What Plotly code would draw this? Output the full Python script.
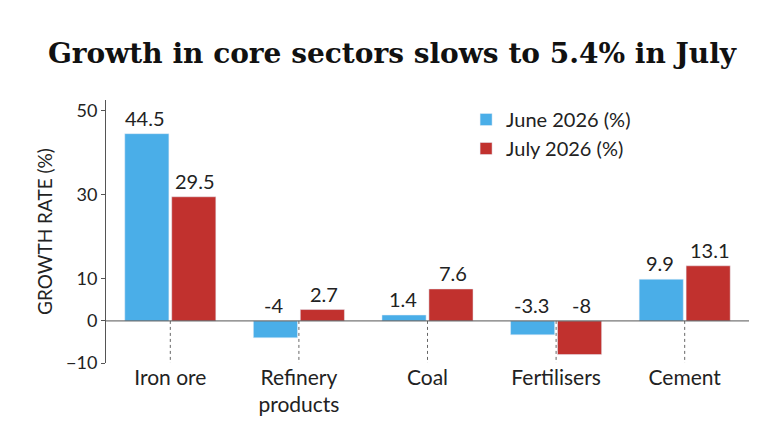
import plotly.graph_objects as go

categories = ["Iron ore", "Refinery<br>products", "Coal", "Fertilisers", "Cement"]
june = [44.5, -4, 1.4, -3.3, 9.9]
july = [29.5, 2.7, 7.6, -8, 13.1]
tick_vals = [50, 30, 10, 0, -10]

blue = "#4aaee8"
red = "#c1312e"
font = "Lato, Open Sans, sans-serif"

fig = go.Figure()
fig.add_trace(go.Bar(x=categories, y=june, name="June 2026 (%)", marker_color=blue))
fig.add_trace(go.Bar(x=categories, y=july, name="July 2026 (%)", marker_color=red))

# value labels always sit above the zero line / bar top, as in the reference
for vals, shift in ((june, -25), (july, 25)):
    for c, v in zip(categories, vals):
        fig.add_annotation(x=c, y=max(v, 0), text=f"{v:g}", showarrow=False,
                           xshift=shift, yanchor="bottom", yshift=2,
                           font=dict(size=20, color="#222"))

# dotted guide lines under each category
for c in categories:
    fig.add_shape(type="line", x0=c, x1=c, y0=0, y1=-10, xref="x", yref="y",
                  line=dict(color="#666", width=1, dash="dot"), layer="below")
fig.add_shape(type="line", xref="paper", yref="y", x0=0, x1=1, y0=0, y1=0,
              line=dict(color="#555", width=1))

fig.update_layout(
    width=768, height=430,
    paper_bgcolor="white", plot_bgcolor="white",
    margin=dict(l=98, r=27, t=92, b=75),
    barmode="group", bargap=0.27, bargroupgap=0.06,
    font=dict(family=font, color="#222"),
    title=dict(text="<b>Growth in core sectors slows to 5.4% in July</b>",
               x=0.5, xanchor="center", y=0.895, yanchor="middle",
               font=dict(family="DejaVu Serif, serif", size=28, color="#111")),
    legend=dict(x=0.56, y=1.0, xanchor="left", yanchor="top",
                font=dict(size=20, color="#222"), bgcolor="rgba(0,0,0,0)",
                tracegroupgap=14),
    showlegend=True,
)
fig.update_xaxes(showline=False, ticks="", tickfont=dict(size=21, color="#222"))
fig.update_yaxes(range=[-10, 52.5], tickvals=tick_vals, showgrid=False, zeroline=False,
                 showline=True, linecolor="#555", linewidth=1, ticks="outside", ticklen=4,
                 tickcolor="#555", tickfont=dict(size=18, color="#222"),
                 title=dict(text="GROWTH RATE (%)", font=dict(size=19, color="#222"), standoff=8))

fig.write_html("out.html")
